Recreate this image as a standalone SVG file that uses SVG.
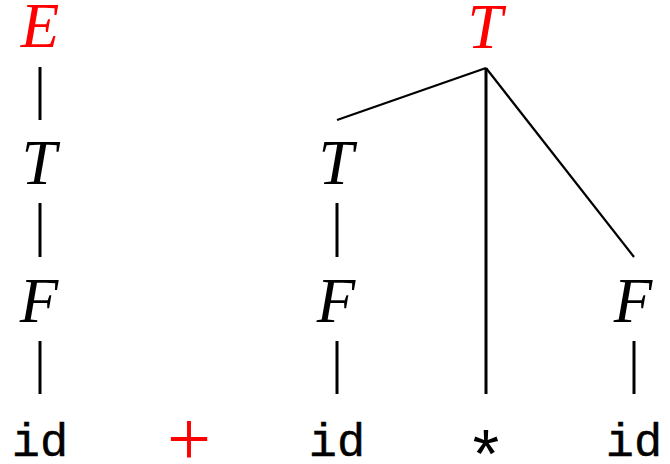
<svg xmlns="http://www.w3.org/2000/svg" width="670" height="464" viewBox="0 0 670 464">
<style>
.nt{font-family:"Liberation Serif",serif;font-style:italic;font-size:63px;text-anchor:middle;fill:#000}
.red{fill:#ff0000}
.tt{font-family:"Liberation Mono",monospace;font-size:47px;text-anchor:middle;fill:#000;stroke:#000;stroke-width:0.4}
.op{font-family:"Liberation Serif",serif;font-size:78px;text-anchor:middle;fill:#ff0000}
.e{stroke:#000;stroke-width:3;fill:none}
.d{stroke:#000;stroke-width:2.2;fill:none}
</style>
<rect width="670" height="464" fill="#fff"/>
<g id="connectors">
<line class="e" x1="40" y1="67" x2="40" y2="120"/>
<line class="e" x1="40" y1="203" x2="40" y2="257"/>
<line class="e" x1="40" y1="341" x2="40" y2="394"/>
<line class="d" x1="337" y1="120" x2="486" y2="68"/>
<line class="e" x1="486" y1="68" x2="486" y2="394"/>
<line class="d" x1="486" y1="68" x2="634" y2="257"/>
<line class="e" x1="337" y1="203" x2="337" y2="257"/>
<line class="e" x1="337" y1="341" x2="337" y2="394"/>
<line class="e" x1="634" y1="341" x2="634" y2="394"/>
</g>
<g id="E1"><text class="nt red" x="40" y="47">E</text></g>
<g id="T1"><text class="nt" x="39" y="184">T</text></g>
<g id="F1"><text class="nt" x="39" y="322">F</text></g>
<g id="id1"><text class="tt" x="40" y="456">id</text></g>
<g id="plus"><text class="op" x="189" y="465">+</text></g>
<g id="T0"><text class="nt red" x="485" y="48">T</text></g>
<g id="T2"><text class="nt" x="336" y="184">T</text></g>
<g id="F2"><text class="nt" x="336" y="322">F</text></g>
<g id="id2"><text class="tt" x="337" y="456">id</text></g>
<g id="star"><text class="tt" x="486" y="480" style="font-size:68px;stroke:none">*</text></g>
<g id="F3"><text class="nt" x="633" y="322">F</text></g>
<g id="id3"><text class="tt" x="634" y="456">id</text></g>
</svg>
